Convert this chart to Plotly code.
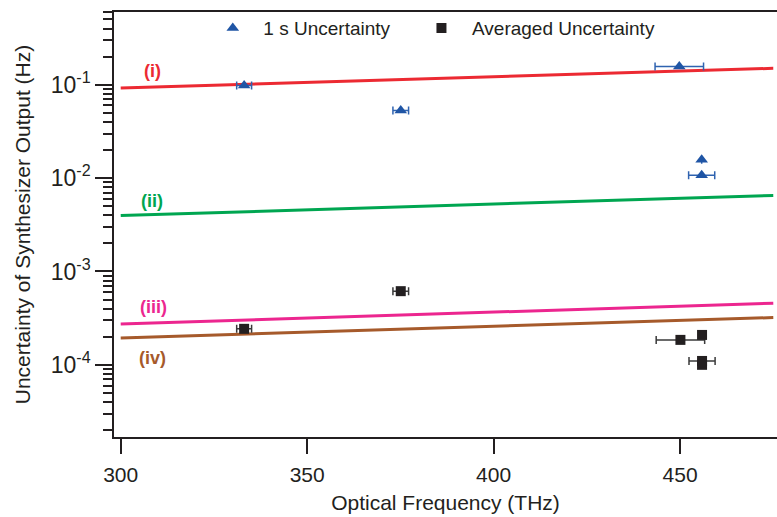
import plotly.graph_objects as go

# ---- data ----
line_x = [300, 475]
line_i = [0.092, 0.150]
line_ii = [0.00397, 0.00652]
line_iii = [2.74e-4, 4.57e-4]
line_iv = [1.94e-4, 3.21e-4]

one_s_freq = [333.1, 375.1, 449.8, 455.8, 455.8]
one_s_unc = [0.0984, 0.0531, 0.157, 0.0157, 0.0107]
one_s_xerr = [2.0, 2.1, 6.5, 0.0, 3.5]

avg_freq = [333.1, 375.1, 450.1, 455.9, 455.9, 455.9]
avg_unc = [2.43e-4, 6.15e-4, 1.85e-4, 2.09e-4, 1.10e-4, 1.0e-4]
avg_xerr = [2.0, 2.1, 6.5, 0.0, 3.5, 0.0]

line_labels = ["(i)", "(ii)", "(iii)", "(iv)"]
label_x = [308.5, 308.3, 308.7, 308.5]
label_logy = [-0.857, -2.25, -3.376, -3.93]
line_colors = ["#ec2a32", "#00a651", "#ec268f", "#a65a2b"]

y_tickvals = [1e-4, 1e-3, 1e-2, 1e-1]
y_ticktext = ["10<sup>-4</sup>", "10<sup>-3</sup>", "10<sup>-2</sup>", "10<sup>-1</sup>"]
x_tickvals = [300, 350, 400, 450]

FONT = "Liberation Sans, Arial, sans-serif"
AX = "#231f20"

fig = go.Figure()
for yv, c in zip([line_i, line_ii, line_iii, line_iv], line_colors):
    fig.add_trace(go.Scatter(x=line_x, y=yv, mode="lines",
                             line=dict(color=c, width=3), showlegend=False,
                             hoverinfo="skip"))

fig.add_trace(go.Scatter(
    x=one_s_freq, y=one_s_unc, mode="markers",
    name="\u00a0\u00a01 s Uncertainty\u00a0\u00a0\u00a0\u00a0\u00a0",
    marker=dict(symbol="triangle-up", size=11, color="#1f55a5"),
    error_x=dict(type="data", array=one_s_xerr, visible=True, color="#2f63b0",
                 thickness=1.5, width=4)))
fig.add_trace(go.Scatter(
    x=avg_freq, y=avg_unc, mode="markers", name="\u00a0\u00a0Averaged Uncertainty",
    marker=dict(symbol="square", size=10, color="#231f20"),
    error_x=dict(type="data", array=avg_xerr, visible=True, color="#3a3a3a",
                 thickness=1.5, width=4)))

for t, xx, ly, c in zip(line_labels, label_x, label_logy, line_colors):
    fig.add_annotation(x=xx, y=ly, text="<b>%s</b>" % t, showarrow=False,
                       font=dict(family=FONT, size=18, color=c))

fig.update_layout(
    width=777, height=517,
    margin=dict(l=114, r=0, t=12, b=80, autoexpand=False),
    paper_bgcolor="white", plot_bgcolor="white",
    font=dict(family=FONT, color=AX),
    legend=dict(orientation="h", x=0.149, xanchor="left", y=0.962, yanchor="middle",
                font=dict(size=19, color=AX), bgcolor="rgba(0,0,0,0)"),
)
fig.update_xaxes(
    range=[298.2, 476.0], showgrid=False, zeroline=False, automargin=False,
    showline=True, linecolor=AX, linewidth=1.5, mirror=True,
    ticks="outside", ticklen=15, tickwidth=1.5, tickcolor=AX, ticklabelstandoff=3,
    tickvals=x_tickvals, tickfont=dict(size=21, color=AX),
    title=dict(text="Optical Frequency (THz)", font=dict(size=21, color=AX), standoff=10),
)
fig.update_yaxes(
    type="log", range=[-4.773, -0.221], showgrid=False, zeroline=False, automargin=False,
    showline=True, linecolor=AX, linewidth=1.5,
    ticks="outside", ticklen=17, tickwidth=1.5, tickcolor=AX,
    tickvals=y_tickvals, ticktext=y_ticktext, tickfont=dict(size=23, color=AX),
    minor=dict(ticks="outside", ticklen=9, tickwidth=1.5, tickcolor=AX,
               tickvals=[m * 10.0 ** e for e in range(-5, 0) for m in range(2, 10)]),
    title=dict(text="Uncertainty of Synthesizer Output (Hz)", font=dict(size=21, color=AX),
               standoff=14),
)

fig.write_html("out.html", config={"displayModeBar": False},
               post_script="document.body.style.margin='0';document.body.style.overflow='hidden';")
